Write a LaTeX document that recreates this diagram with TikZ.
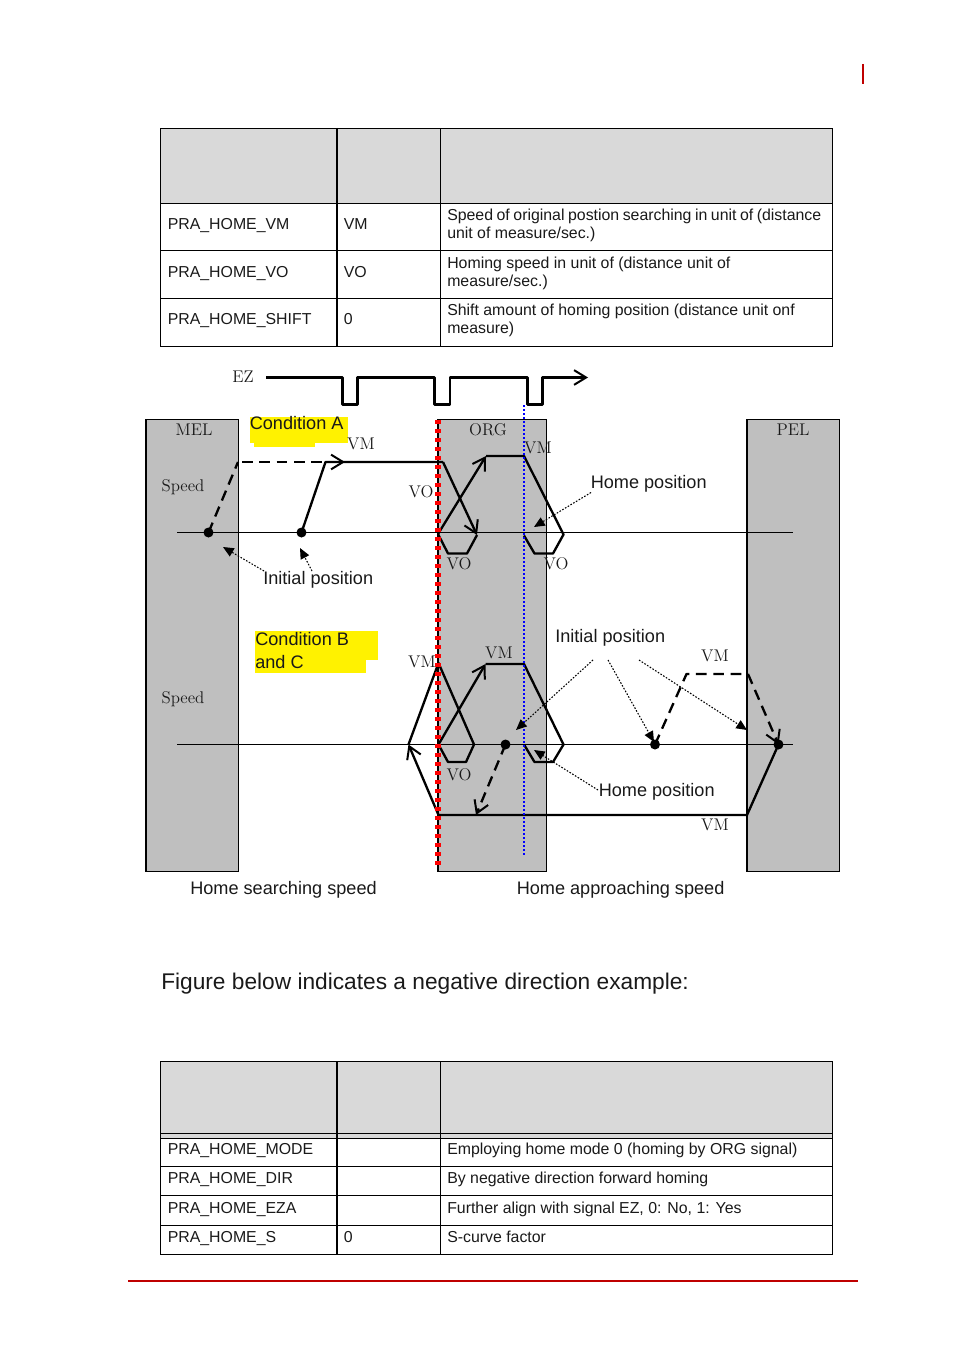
\documentclass[tikz,border=0pt]{standalone}
\usepackage{fontspec}
\setmainfont{Liberation Sans}
\newfontfamily\lmserif{Latin Modern Roman}
\usetikzlibrary{arrows.meta}
\tikzset{
  cell/.style={anchor=base west,inner sep=0pt,font=\fontsize{11.9pt}{13.5pt}\selectfont,text=black!90},
  lbl/.style={anchor=base west,inner sep=0pt,font=\fontsize{13.6pt}{16pt}\selectfont,text=black!90},
  ser/.style={inner sep=0pt,font=\lmserif\fontsize{12.7pt}{14pt}\selectfont,text=black!90},
  rule/.style={draw=black,line width=0.75pt},
  heavy/.style={draw=black,line width=1.5pt},
  panel/.style={draw=black,line width=1.2pt,fill=black!25},
  trace/.style={draw=black,line width=1.75pt,line join=round},
  dtrace/.style={trace,dash pattern=on 8pt off 5pt},
  barb/.style={-{Straight Barb[length=9pt,width=11pt,line width=1.5pt]}},
  leader/.style={draw=black,line width=0.8pt,dash pattern=on 1.2pt off 1.2pt,-{Triangle[length=8pt,width=7pt]}},
  dot/.style={circle,fill=black,inner sep=0pt,minimum size=7.5pt},
  hl/.style={fill=yellow,draw=none},
  brand/.style={draw=red!75!black,line width=1.2pt},
}
\begin{document}
\begin{tikzpicture}[x=0.75pt,y=-0.75pt]
\useasboundingbox (0,0) rectangle (954,1352);
% page marks
\draw[brand] (863,64) -- (863,84);
\draw[brand] (128,1281) -- (858,1281);
% table 1
\fill[black!15] (160.5,128.5) rectangle (832.5,203.5);
\draw[rule] (160.5,128.5) rectangle (832.5,346.5);
\foreach \yy in {203.5,250.5,298.5} \draw[rule] (160.5,\yy) -- (832.5,\yy);
\draw[heavy] (337,128) -- (337,346.5);
\draw[rule] (440.5,128.5) -- (440.5,346.5);
\node[cell] (t1a) at (167.5,229.5) {PRA\_HOME\_VM};
\node[cell] (t1b) at (343.5,229.5) {VM};
\node[cell] (t1c) at (447,220) {\spaceskip=2.65pt Speed of original postion searching in unit of (distance};
\node[cell] (t1d) at (447,238) {unit of measure/sec.)};
\node[cell] (t1e) at (167.5,277) {PRA\_HOME\_VO};
\node[cell] (t1f) at (343.5,277) {VO};
\node[cell] (t1g) at (447,268) {Homing speed in unit of (distance unit of};
\node[cell] (t1h) at (447,286) {measure/sec.)};
\node[cell] (t1i) at (167.5,324.5) {PRA\_HOME\_SHIFT};
\node[cell] (t1j) at (343.5,324.5) {0};
\node[cell] (t1k) at (447,315.5) {Shift amount of homing position (distance unit onf};
\node[cell] (t1l) at (447,333.5) {measure)};
% panels
\path[panel] (146,419.5) rectangle (238.5,871.5);
\path[panel] (438,419.5) rectangle (546.5,871.5);
\path[panel] (747,419.5) rectangle (839.5,871.5);
% highlights
\fill[hl] (250,417) rectangle (348,443);
\fill[hl] (254,443) rectangle (315,447);
\fill[hl] (255,631) rectangle (378,660);
\fill[hl] (255,660) rectangle (366,673);
% axes
\draw[line width=1.1pt] (177,532.5) coordinate (ax1a) -- (793,532.5) coordinate (ax1b);
\draw[line width=1.1pt] (177,744.5) coordinate (ax2a) -- (793,744.5) coordinate (ax2b);
% EZ
\coordinate (ez0) at (266,377.5);
\coordinate (ez1) at (588,377.5);
\draw[trace,line width=1.65pt,barb] (ez0) -- (342.5,377.5) -- (342.5,404.5) -- (357.5,404.5) -- (357.5,377.5)
  -- (434.5,377.5) -- (434.5,404.5) -- (450,404.5) -- (450,377.5)
  -- (527.5,377.5) -- (527.5,404.5) -- (542.5,404.5) -- (542.5,377.5) -- (ez1);
% dots
\node[dot] (d1) at (208.5,532.5) {};
\node[dot] (d2) at (301.5,532.5) {};
\node[dot] (d3) at (505.5,744.5) {};
\node[dot] (d4) at (655,744.5) {};
\node[dot] (d5) at (778.5,744.5) {};
% upper traces
\coordinate (u1) at (238,462);
\coordinate (u1b) at (242,462);
\coordinate (u2) at (345,462);
\coordinate (u3) at (325.5,462);
\coordinate (u4) at (443,462);
\coordinate (u5) at (477,535);
\draw[dtrace] (d1.center) -- (u1);
\draw[dtrace] (u1b) -- (u2);
\draw[trace,barb] (u3) ++(8,0) -- (u2);
\draw[trace] (d2.center) -- (u3) -- (u4);
\draw[trace,barb] (u4) -- (u5);
\draw[trace] (u5) -- (467,553.5) -- (448,553.5) -- (438,534);
\coordinate (u6) at (486,456);
\draw[trace,barb] (438,534) -- (u6);
\draw[trace] (u6) -- (524,456) -- (563.5,534.5) -- (553,553.5) -- (534.5,553.5) -- (524,535.5);
% lower traces
\coordinate (l0) at (438.5,815);
\coordinate (l1) at (408.5,744.5);
\coordinate (l2) at (438.5,663);
\coordinate (l3) at (485.5,664);
\coordinate (l4) at (747,815);
\draw[trace,barb] (l0) -- (l1);
\draw[trace] (l1) -- (l2) -- (474,744.5) -- (466,762) -- (448,762) -- (438.5,744.5);
\draw[trace,barb] (438.5,744.5) -- (l3);
\draw[trace] (l3) -- (524,664) -- (563.5,744.5) -- (553,762) -- (534.5,762) -- (524,744.5);
\draw[trace] (l0) -- (l4) -- (d5.center);
\coordinate (l5) at (476,815);
\draw[dtrace,barb] (d3.center) -- (l5);
\coordinate (l6) at (686.5,674);
\coordinate (l7) at (748,674);
\draw[dtrace] (d4.center) -- (l6) -- (l7);
\draw[dtrace,barb] (l7) -- (d5.center);
% vertical markers
\draw[red,line width=3.8pt,dash pattern=on 3.3pt off 3.45pt] (438,420) coordinate (redt) -- (438,866) coordinate (redb);
\draw[blue,line width=1.5pt,dash pattern=on 1.5pt off 1.5pt] (524,405) coordinate (blut) -- (524,856) coordinate (blub);
% labels
\node[ser] (ez) at (243,377) {EZ};
\node[ser] (mel) at (194,430) {MEL};
\node[ser] (org) at (488,430) {ORG};
\node[ser] (pel) at (793,430) {PEL};
\node[ser] (sp1) at (183,487) {Speed};
\node[ser] (sp2) at (183,699) {Speed};
\node[ser] (vm1) at (361,444) {VM};
\node[ser] (vo1) at (421,492) {VO};
\node[ser] (vm2) at (538,448) {VM};
\node[ser] (vo2) at (459,564) {VO};
\node[ser] (vo3) at (556,564) {VO};
\node[ser] (vm3) at (422,662) {VM};
\node[ser] (vm4) at (499,653) {VM};
\node[ser] (vo4) at (459,775) {VO};
\node[ser] (vm5) at (715,656) {VM};
\node[ser] (vm6) at (715,825) {VM};
\node[lbl] (ca) at (249.5,429) {Condition A};
\node[lbl] (cb1) at (255,645) {Condition B};
\node[lbl] (cb2) at (255,668) {and C};
\node[lbl] (hp1) at (590.5,488) {Home position};
\node[lbl] (ip1) at (263,584) {Initial position};
\node[lbl] (ip2) at (555,642.5) {Initial position};
\node[lbl] (hp2) at (598.5,796) {Home position};
\node[lbl] (hs) at (190,894) {Home searching speed};
\node[lbl] (ha) at (516.5,894) {Home approaching speed};
% leaders
\coordinate (a1) at (264,571); \coordinate (a1e) at (223,547);
\coordinate (a2) at (312,571); \coordinate (a2e) at (300,548);
\coordinate (a3) at (591,492.5); \coordinate (a3e) at (534,527);
\coordinate (a4) at (593,660); \coordinate (a4e) at (516,730);
\coordinate (a5) at (608,660); \coordinate (a5e) at (654,742);
\coordinate (a6) at (639,660); \coordinate (a6e) at (747,730);
\coordinate (a7) at (598,790); \coordinate (a7e) at (534,750);
\foreach \s/\e in {a1/a1e,a2/a2e,a3/a3e,a4/a4e,a5/a5e,a6/a6e,a7/a7e} \draw[leader] (\s) -- (\e);
% heading
\node[anchor=base west,inner sep=0pt,font=\fontsize{17.03pt}{20pt}\selectfont,text=black!90] (head) at (161,989) {Figure below indicates a negative direction example:};
% table 2
\fill[black!15] (160.5,1061.5) rectangle (832.5,1138);
\draw[rule] (160.5,1061.5) rectangle (832.5,1254.5);
\foreach \yy in {1133.5,1138.5,1166.5,1195.5,1225.5} \draw[rule] (160.5,\yy) -- (832.5,\yy);
\draw[heavy] (337,1061) -- (337,1254.5);
\draw[rule] (440.5,1061.5) -- (440.5,1254.5);
\node[cell] (t2a) at (167.5,1154.5) {PRA\_HOME\_MODE};
\node[cell] (t2b) at (447,1154.5) {Employing home mode 0 (homing by ORG signal)};
\node[cell] (t2c) at (167.5,1183.5) {PRA\_HOME\_DIR};
\node[cell] (t2d) at (447,1183.5) {By negative direction forward homing};
\node[cell] (t2e) at (167.5,1213) {PRA\_HOME\_EZA};
\node[cell] (t2f) at (447,1213) {Further align with signal EZ, 0: No, 1: Yes};
\node[cell] (t2g) at (167.5,1242) {PRA\_HOME\_S};
\node[cell] (t2h) at (343.5,1242) {0};
\node[cell] (t2i) at (447,1242) {S-curve factor};
\end{tikzpicture}
\end{document}
